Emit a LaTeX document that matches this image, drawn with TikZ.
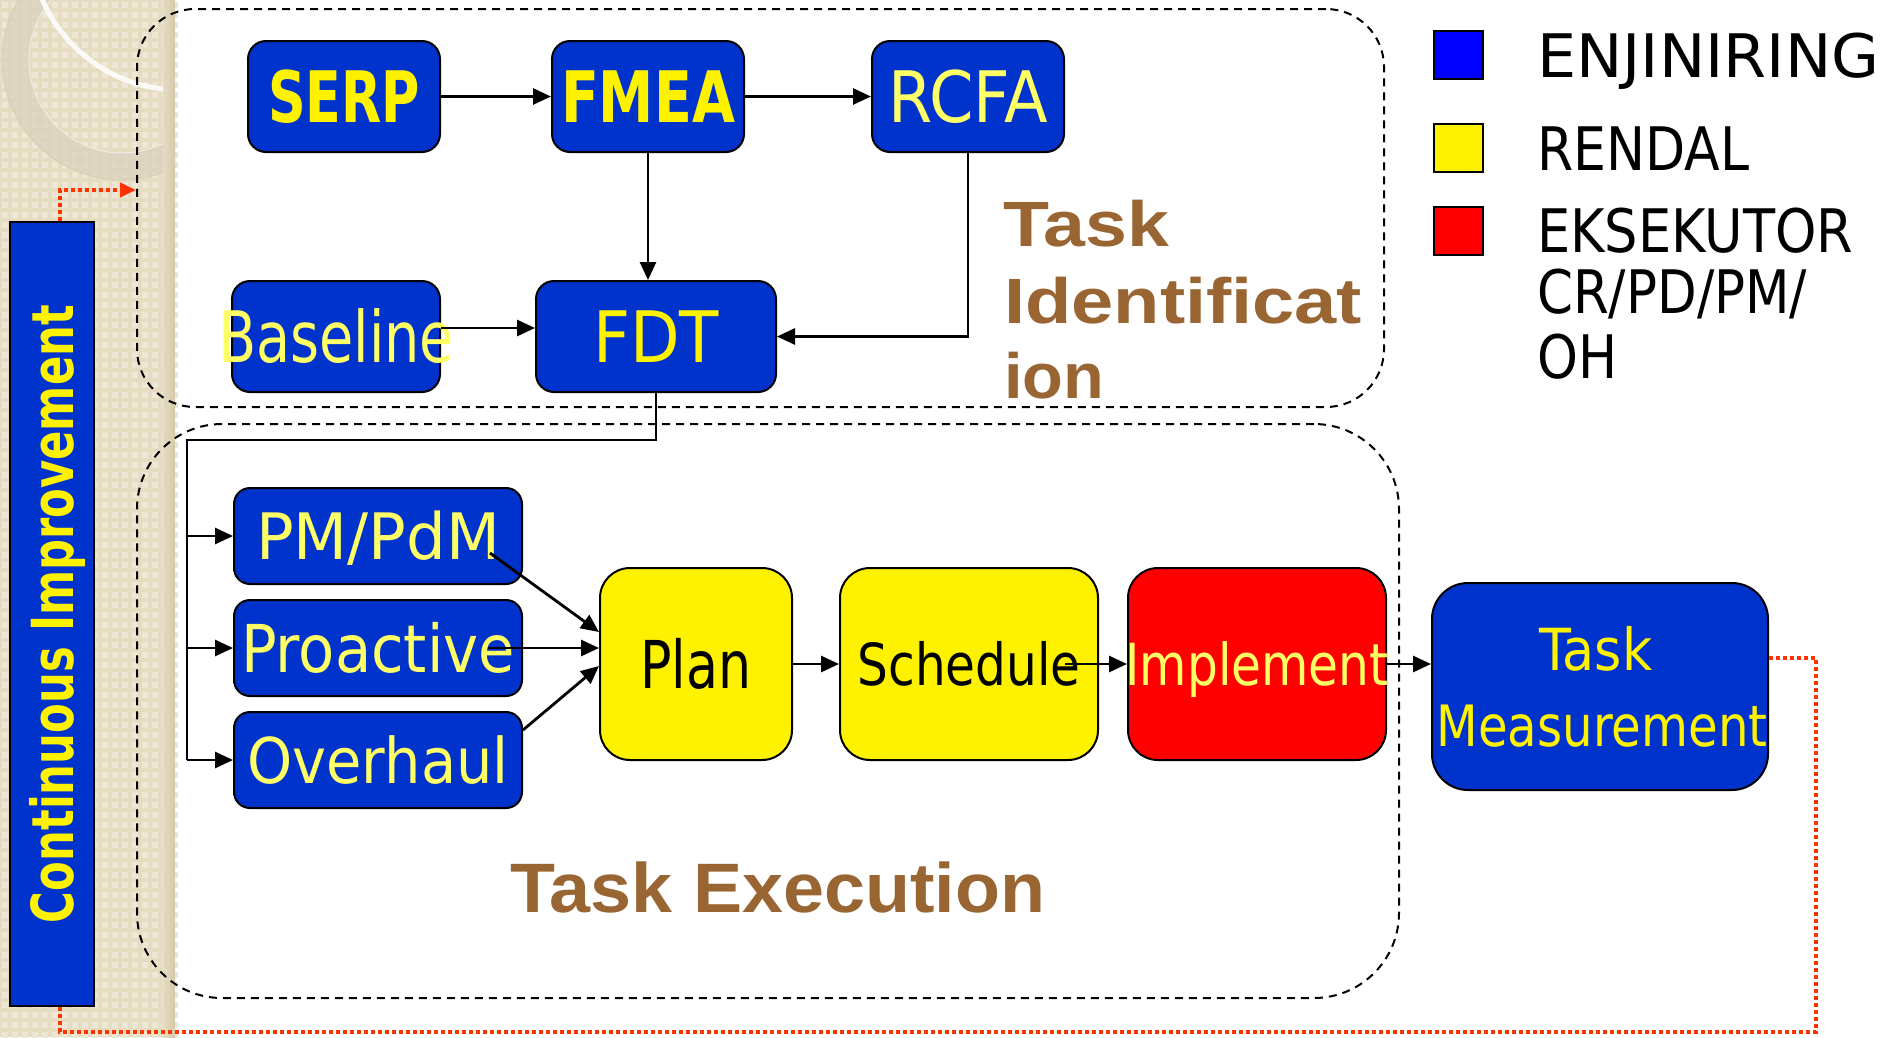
\documentclass[tikz,border=0pt]{standalone}
\usepackage{fontspec}
\usepackage{graphicx}
\setmainfont{DejaVu Sans}
\newfontfamily\headfont{Liberation Sans}
\usetikzlibrary{arrows.meta,calc}

\definecolor{boxblue}{RGB}{0,51,204}
\definecolor{paleyellow}{RGB}{255,255,102}
\definecolor{headbrown}{RGB}{153,102,51}
\definecolor{fbred}{RGB}{255,51,0}
\definecolor{stripc}{RGB}{230,220,194}
\definecolor{stripdot}{RGB}{238,231,213}
\definecolor{stripdark}{RGB}{212,200,170}
\definecolor{ringc}{RGB}{218,210,190}

% squeeze a label to a given width, keeping its height; zero width so it never widens its box
\newcommand{\fitto}[2]{\makebox[0pt]{\resizebox{#1}{\height}{#2}}}

\tikzset{
  stepbox/.style={draw=black, line width=2pt, inner sep=0pt, text depth=0pt},
  bluebox/.style={stepbox, fill=boxblue, rounded corners=18pt},
  region/.style={draw=black, line width=2pt, dash pattern=on 8pt off 6pt, inner sep=0pt},
  conn/.style={line width=2.8pt, -{Triangle[length=18pt,width=16pt]}},
  feedback/.style={draw=fbred, line width=4pt, dash pattern=on 4pt off 3pt},
  legbox/.style={draw=black, line width=2pt, minimum width=49pt, minimum height=48pt, inner sep=0pt},
  legtxt/.style={anchor=base west, inner sep=0pt, font=\fontsize{60}{66}\selectfont},
  headtxt/.style={anchor=base west, inner sep=0pt, text=headbrown},
}

\begin{document}
\begin{tikzpicture}[x=1pt,y=-1pt]
\useasboundingbox (0,0) rectangle (1882,1037);
\clip (0,0) rectangle (1882,1037);

% textured side strip with its ring ornament
\fill[stripc] (0,0) rectangle (175,1037);
\foreach \i in {0,...,17}{
  \foreach \j in {0,...,103}{
    \fill[stripdot] (\i*10+2,\j*10+2) rectangle ++(6,6);
  }
}
\begin{scope}
  \clip (0,0) rectangle (175,1037);
  \fill[ringc, opacity=0.75, even odd rule] (122,60) circle (120pt) (122,60) circle (93pt);
  \draw[white!55!ringc, line width=1pt] (122,60) circle (93pt);
  \draw[stripdark, line width=1pt, opacity=0.6] (122,60) circle (120pt);
  \draw[white, line width=5pt, opacity=0.85] (180,-60) circle (150pt);
\end{scope}
\shade[left color=stripc, right color=stripdark] (163,0) rectangle (175,1037);

% the two phase regions
\node[region, rounded corners=58pt, minimum width=1247pt, minimum height=398pt] (tid) at (760.5,208) {};
\node[region, rounded corners=85pt, minimum width=1262pt, minimum height=574pt] (tex) at (768,711) {};

% region titles
\node[headtxt, font=\headfont\bfseries\fontsize{64}{70}\selectfont] (ti1) at (1003,246) {\resizebox{166pt}{\height}{Task}};
\node[headtxt, font=\headfont\bfseries\fontsize{64}{70}\selectfont] (ti2) at (1004,323) {\resizebox{358pt}{\height}{Identificat}};
\node[headtxt, font=\headfont\bfseries\fontsize{64}{70}\selectfont] (ti3) at (1004,398) {\resizebox{100pt}{\height}{ion}};
\node[headtxt, font=\headfont\bfseries\fontsize{70}{76}\selectfont] (te) at (510,912) {\resizebox{535pt}{\height}{Task Execution}};

% identification steps
\node[bluebox, minimum width=192pt, minimum height=111pt, text=yellow, text height=52pt, font=\fontsize{71}{80}\selectfont] (serp) at (344,96.5) {\fitto{152pt}{\bfseries SERP}};
\node[bluebox, minimum width=192pt, minimum height=111pt, text=yellow, text height=52pt, font=\fontsize{71}{80}\selectfont] (fmea) at (648,96.5) {\fitto{174pt}{\bfseries FMEA}};
\node[bluebox, minimum width=192pt, minimum height=111pt, text=paleyellow, text height=52pt, font=\fontsize{71}{80}\selectfont] (rcfa) at (968,96.5) {\fitto{160pt}{RCFA}};
\node[bluebox, minimum width=208pt, minimum height=111pt, text=paleyellow, text height=52pt, font=\fontsize{71}{80}\selectfont] (base) at (336,336.5) {\fitto{236pt}{Baseline}};
\node[bluebox, minimum width=240pt, minimum height=111pt, text=yellow, text height=52pt, font=\fontsize{71}{80}\selectfont] (fdt) at (656,336.5) {\fitto{126pt}{FDT}};

% task types
\node[bluebox, rounded corners=16pt, minimum width=288pt, minimum height=96pt, text=paleyellow, text height=47pt, font=\fontsize{64}{70}\selectfont] (pm) at (378,536) {\fitto{244pt}{PM/PdM}};
\node[bluebox, rounded corners=16pt, minimum width=288pt, minimum height=96pt, text=paleyellow, text height=48pt, font=\fontsize{66}{72}\selectfont] (pro) at (378,648) {\fitto{274pt}{Proactive}};
\node[bluebox, rounded corners=16pt, minimum width=288pt, minimum height=96pt, text=paleyellow, text height=46pt, font=\fontsize{63}{70}\selectfont] (ovh) at (378,760) {\fitto{261pt}{Overhaul}};

% execution chain
\node[stepbox, fill=yellow, rounded corners=30pt, minimum width=192pt, minimum height=192pt, text=black, text height=48pt, font=\fontsize{66}{72}\selectfont] (plan) at (696,664) {\fitto{111pt}{Plan}};
\node[stepbox, fill=yellow, rounded corners=30pt, minimum width=258pt, minimum height=192pt, text=black, text height=42pt, font=\fontsize{58}{64}\selectfont] (sched) at (969,664) {\fitto{223pt}{Schedule}};
\node[stepbox, fill=red, rounded corners=30pt, minimum width=258pt, minimum height=192pt, text=paleyellow, text height=42pt, font=\fontsize{58}{64}\selectfont] (impl) at (1257,664) {\fitto{263pt}{Implement}};
\node[bluebox, rounded corners=36pt, minimum width=336pt, minimum height=207pt] (tm) at (1600,686.5) {};
\node[anchor=base, inner sep=0pt, text=yellow, font=\fontsize{58}{64}\selectfont] (tm1) at (1596,670) {\fitto{113pt}{Task}};
\node[anchor=base, inner sep=0pt, text=yellow, font=\fontsize{57}{64}\selectfont] (tm2) at (1602,746) {\fitto{331pt}{Measurement}};

% continuous improvement bar
\node[stepbox, fill=boxblue, minimum width=84pt, minimum height=784pt] (ci) at (52,614) {};
\node[rotate=90, inner sep=0pt, text=yellow, text height=42pt, text depth=0pt, font=\fontsize{58}{64}\selectfont] (citext) at (ci.center) {\fitto{618pt}{\bfseries Continuous Improvement}};

% legend
\node[legbox, fill=blue] (lgb) at (1458.5,55) {};
\node[legbox, fill=yellow] (lgy) at (1458.5,148) {};
\node[legbox, fill=red] (lgr) at (1458.5,231) {};
\node[legtxt] (lt1) at (1537,77) {\resizebox{342pt}{\height}{ENJINIRING}};
\node[legtxt] (lt2) at (1537,170) {\resizebox{212pt}{\height}{RENDAL}};
\node[legtxt] (lt3) at (1537,252) {\resizebox{316pt}{\height}{EKSEKUTOR}};
\node[legtxt] (lt4) at (1537,313) {\resizebox{270pt}{\height}{CR/PD/PM/}};
\node[legtxt] (lt5) at (1537,378) {\resizebox{80pt}{\height}{OH}};

% identification flow
\draw[conn] (serp.east) -- (fmea.west);
\draw[conn] (fmea.east) -- (rcfa.west);
\draw[conn] (fmea.south) -- (fmea.south |- fdt.north);
\draw[conn] (rcfa.south) |- (fdt.east);
\draw[conn] ([yshift=8.5pt]base.east) -- ([yshift=8.5pt]fdt.west);

% FDT feeds the three task types
\coordinate (bx) at (187,440);
\coordinate (bend) at (187,760);
\draw[line width=2.8pt] (fdt.south) |- (bx) -- (bend);
\draw[conn] (bx |- pm.west) -- (pm.west);
\draw[conn] (bx |- pro.west) -- (pro.west);
\draw[conn] (bx |- ovh.west) -- (ovh.west);

% task types into the plan, then the execution chain
\draw[conn] ($(pm.center)+(112,17)$) -- ($(plan.west)+(0,-32)$);
\draw[conn] ($(pro.center)+(110,0)$) -- ($(plan.west)+(0,-16)$);
\draw[conn] ($(ovh.east)+(0,-30)$) -- ($(plan.west)+(0,2)$);
\draw[conn] (plan.east) -- (sched.west);
\draw[conn] ($(sched.center)+(96,0)$) -- (impl.west);
\draw[conn] (impl.east) -- (impl.east -| tm.west);

% feedback loop back to identification
\coordinate (fa) at (1816,658);
\coordinate (fb) at (1816,1032);
\coordinate (fc) at (60,1032);
\coordinate (fd) at (60,190);
\draw[feedback] (tm.east |- fa) -- (fa) -- (fb) -- (fc) -- (fc |- ci.south);
\draw[feedback, -{Triangle[length=16pt,width=14pt]}] (fd |- ci.north) -- (fd) -- (fd -| tid.west);
\end{tikzpicture}
\end{document}
